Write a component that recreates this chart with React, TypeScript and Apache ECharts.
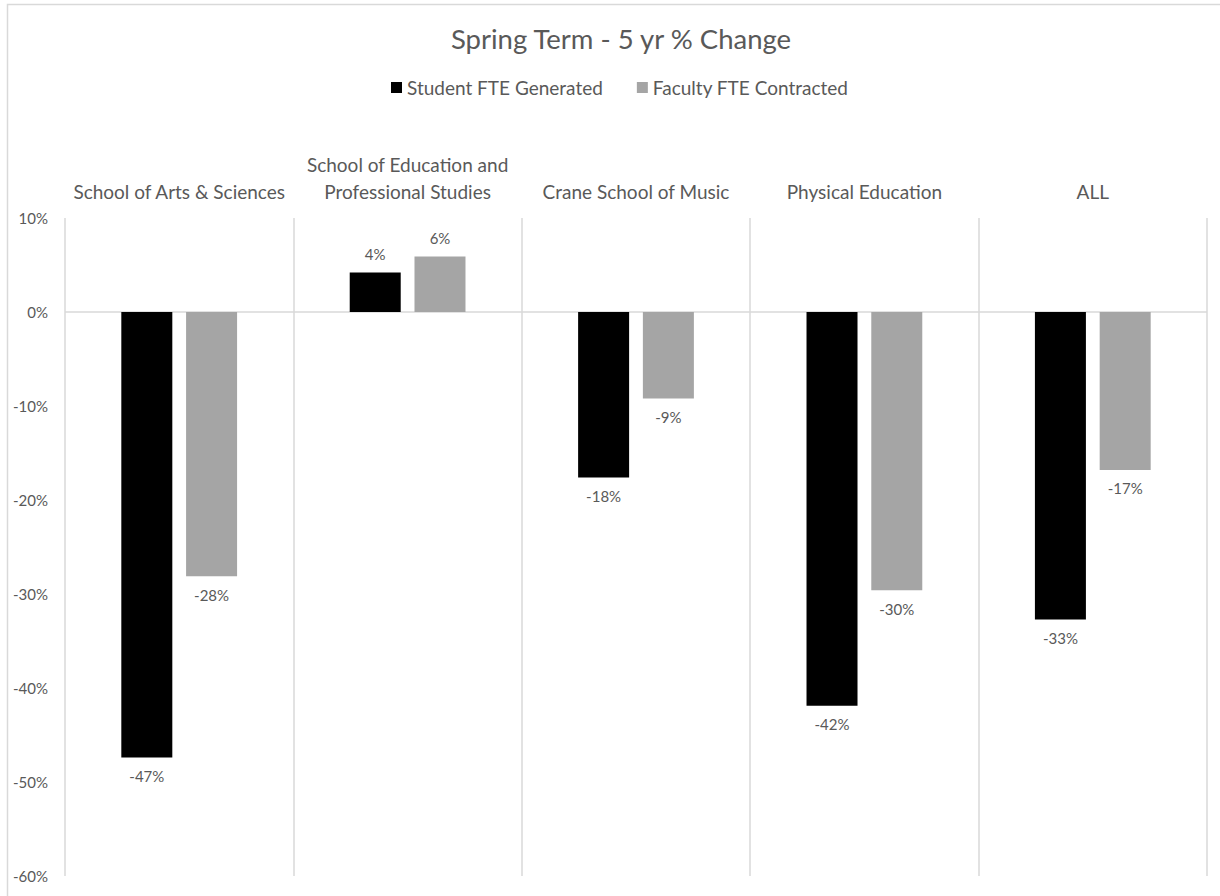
import React, { useEffect, useRef } from "react";
import * as echarts from "echarts";

const categories = [
  "School of Arts & Sciences",
  "School of Education and\nProfessional Studies",
  "Crane School of Music",
  "Physical Education",
  "ALL",
];
const studentFTE = [-47.4, 4.2, -17.6, -41.9, -32.7];
const facultyFTE = [-28.1, 5.9, -9.2, -29.6, -16.8];
const yTicks = { min: -60, max: 10, interval: 10 };

const FONT = "Lato, 'Open Sans', sans-serif";
const TXT = "#595959";
const GRID = "#d9d9d9";

function toData(vals: number[]) {
  return vals.map((v) => ({
    value: v,
    label: { position: v < 0 ? "bottom" : "top" },
  }));
}

export default function App() {
  const ref = useRef<HTMLDivElement>(null);
  useEffect(() => {
    if (!ref.current) return;
    const chart = echarts.init(ref.current, undefined, { renderer: "svg" });
    const labelCfg = {
      show: true,
      distance: 11,
      color: TXT,
      fontSize: 15,
      fontFamily: FONT,
      formatter: (p: any) => Math.round(p.value) + "%",
    };
    chart.setOption({
      animation: false,
      backgroundColor: "#ffffff",
      textStyle: { fontFamily: FONT },
      graphic: [
        {
          type: "rect",
          z: -10,
          shape: { x: 7.5, y: 4.5, width: 1300, height: 1000 },
          style: { fill: "none", stroke: GRID, lineWidth: 1.5 },
          silent: true,
        },
      ],
      title: {
        text: "Spring Term - 5 yr % Change",
        left: 616,
        textAlign: "center",
        top: 19,
        textStyle: { color: TXT, fontSize: 27.5, fontWeight: "normal", fontFamily: FONT },
      },
      legend: {
        left: 386,
        top: 73,
        itemWidth: 11,
        itemHeight: 11,
        itemGap: 34,
        icon: "rect",
        textStyle: { color: TXT, fontSize: 19, fontFamily: FONT },
        data: ["Student FTE Generated", "Faculty FTE Contracted"],
      },
      grid: { left: 65, right: 13, top: 218, bottom: 20, containLabel: false },
      xAxis: {
        type: "category",
        position: "top",
        data: categories,
        axisLine: { show: false },
        axisTick: { show: false },
        axisLabel: {
          color: TXT,
          fontSize: 19,
          fontFamily: FONT,
          margin: 13,
          lineHeight: 27,
          interval: 0,
        },
        splitLine: { show: true, interval: 0, lineStyle: { color: GRID, width: 1.5 } },
      },
      yAxis: {
        type: "value",
        min: yTicks.min,
        max: yTicks.max,
        interval: yTicks.interval,
        axisLine: { show: false },
        axisTick: { show: false },
        splitLine: { show: false },
        axisLabel: {
          color: TXT,
          fontSize: 15,
          fontFamily: FONT,
          margin: 17,
          formatter: (v: number) => v + "%",
        },
      },
      series: [
        {
          name: "Student FTE Generated",
          type: "bar",
          data: toData(studentFTE),
          barWidth: 51,
          barGap: "27%",
          itemStyle: { color: "#000000" },
          label: labelCfg,
          markLine: {
            silent: true,
            symbol: "none",
            label: { show: false },
            lineStyle: { color: GRID, type: "solid", width: 1.5 },
            data: [{ yAxis: 0 }],
            z: 1,
          },
        },
        {
          name: "Faculty FTE Contracted",
          type: "bar",
          data: toData(facultyFTE),
          barWidth: 51,
          barGap: "27%",
          itemStyle: { color: "#a5a5a5" },
          label: labelCfg,
        },
      ],
    });
    return () => chart.dispose();
  }, []);
  return (
    <div
      ref={ref}
      style={{ position: "absolute", left: 0, top: 0, width: 1220, height: 896 }}
    />
  );
}
